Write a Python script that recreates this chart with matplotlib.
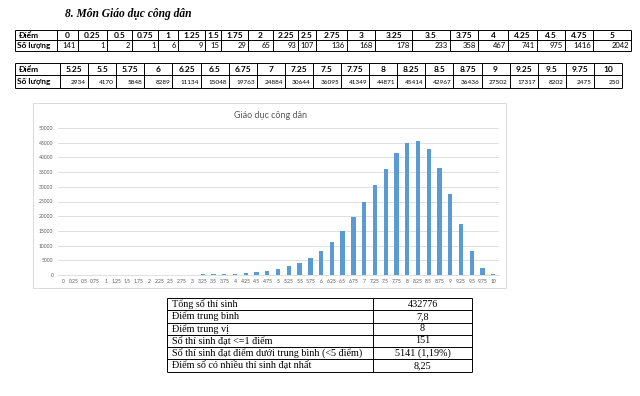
import matplotlib
matplotlib.use("Agg")
import matplotlib.pyplot as plt
from matplotlib.patches import Rectangle

# data
scores = ["0", "0.25", "0.5", "0.75", "1", "1.25", "1.5", "1.75", "2", "2.25", "2.5",
          "2.75", "3", "3.25", "3.5", "3.75", "4", "4.25", "4.5", "4.75", "5",
          "5.25", "5.5", "5.75", "6", "6.25", "6.5", "6.75", "7", "7.25", "7.5",
          "7.75", "8", "8.25", "8.5", "8.75", "9", "9.25", "9.5", "9.75", "10"]
counts = [141, 1, 2, 1, 6, 9, 15, 29, 65, 93, 107,
          136, 168, 178, 233, 358, 467, 741, 975, 1416, 2042,
          2934, 4170, 5848, 8289, 11134, 15048, 19763, 24884, 30644, 36095,
          41349, 44871, 45414, 42967, 36436, 27502, 17317, 8202, 2475, 250]

stat_labels = ["Tổng số thí sinh", "Điểm trung bình", "Điểm trung vị",
               "Số thí sinh đạt <=1 điểm",
               "Số thí sinh đạt điểm dưới trung bình (<5 điểm)",
               "Điểm số có nhiều thí sinh đạt nhất"]
stat_values = ["432776", "7,8", "8", "151", "5141 (1,19%)", "8,25"]

title = "8. Môn Giáo dục công dân"
chart_title = "Giáo dục công dân"

sans = ["Lato", "DejaVu Sans"]
serif = ["Liberation Serif", "DejaVu Serif"]

fig = plt.figure(figsize=(6.4, 3.96), dpi=100)
page = fig.add_axes([0, 0, 1, 1])
page.set_xlim(0, 640)
page.set_ylim(396, 0)
page.axis("off")

page.text(65, 14, title, family=serif, fontsize=8.3, fontweight="bold",
          fontstyle="italic", va="center", ha="left")


def draw_table(edges, top, bottom, mid, head, vals, valsize):
    lw = 0.7
    page.hlines([top, mid, bottom], edges[0], edges[-1], color="black", lw=lw)
    page.vlines(edges, top, bottom, color="black", lw=lw)
    page.text(edges[0] + 3, (top + mid) / 2, "Điểm", family=sans, fontsize=6,
              fontweight="bold", va="center", ha="left")
    page.text(edges[0] + 2, (mid + bottom) / 2, "Số lượng", family=sans, fontsize=6,
              fontweight="bold", va="center", ha="left")
    for i in range(len(head)):
        x0, x1 = edges[i + 1], edges[i + 2]
        page.text((x0 + x1) / 2, (top + mid) / 2, head[i], family=sans, fontsize=6,
                  fontweight="bold", va="center", ha="center")
        page.text(x1 - 2, (mid + bottom) / 2 + 0.5, str(vals[i]), family=sans,
                  fontsize=valsize, va="center", ha="right")


edges1 = [15, 57, 78, 107, 132, 158, 178, 205, 221, 248, 273, 298, 316, 347,
          375, 412, 450, 478, 508, 537, 565, 593, 631]
draw_table(edges1, 30, 51, 40, scores[:21], counts[:21], 5.5)

edges2 = [15] + [60 + i * 28.1 for i in range(21)]
draw_table(edges2, 63, 88, 75, scores[21:], counts[21:], 4.6)

# chart frame
page.add_patch(Rectangle((33, 103), 473, 185, fill=False, ec="#D9D9D9", lw=0.7))
page.text(270, 115, chart_title, family=sans, fontsize=6.5, color="#595959",
          ha="center", va="center")

ax = fig.add_axes([57.6 / 640, 121 / 396, 441 / 640, 147 / 396])
ax.bar(range(len(counts)), counts, width=0.4, color="#5B9BD5")
ax.set_xlim(-0.5, len(counts) - 0.5)
ax.set_ylim(0, 50000)
ax.set_yticks(range(0, 50001, 5000))
ax.set_xticks(range(len(counts)))
ax.set_xticklabels(scores)
ax.tick_params(length=0, labelsize=3.6, colors="#595959", pad=3)
ax.grid(axis="y", color="#D9D9D9", lw=0.6)
ax.set_axisbelow(True)
for s in ["left", "right", "top"]:
    ax.spines[s].set_visible(False)
ax.spines["bottom"].set_color("#D9D9D9")
ax.spines["bottom"].set_linewidth(0.6)
for lab in ax.get_xticklabels() + ax.get_yticklabels():
    lab.set_family(sans)

# stats table
sx0, sx1, sxm = 167, 472, 373
sy = [298 + i * 12.25 for i in range(7)]
page.hlines(sy, sx0, sx1, color="black", lw=0.7)
page.vlines([sx0, sxm, sx1], sy[0], sy[-1], color="black", lw=0.7)
for i in range(len(stat_labels)):
    yc = (sy[i] + sy[i + 1]) / 2
    page.text(sx0 + 5, yc, stat_labels[i], family=serif, fontsize=7.3,
              va="center", ha="left")
    page.text((sxm + sx1) / 2, yc, stat_values[i], family=serif, fontsize=7.3,
              va="center", ha="center")

fig.savefig("out.png", dpi=100, facecolor="white")
